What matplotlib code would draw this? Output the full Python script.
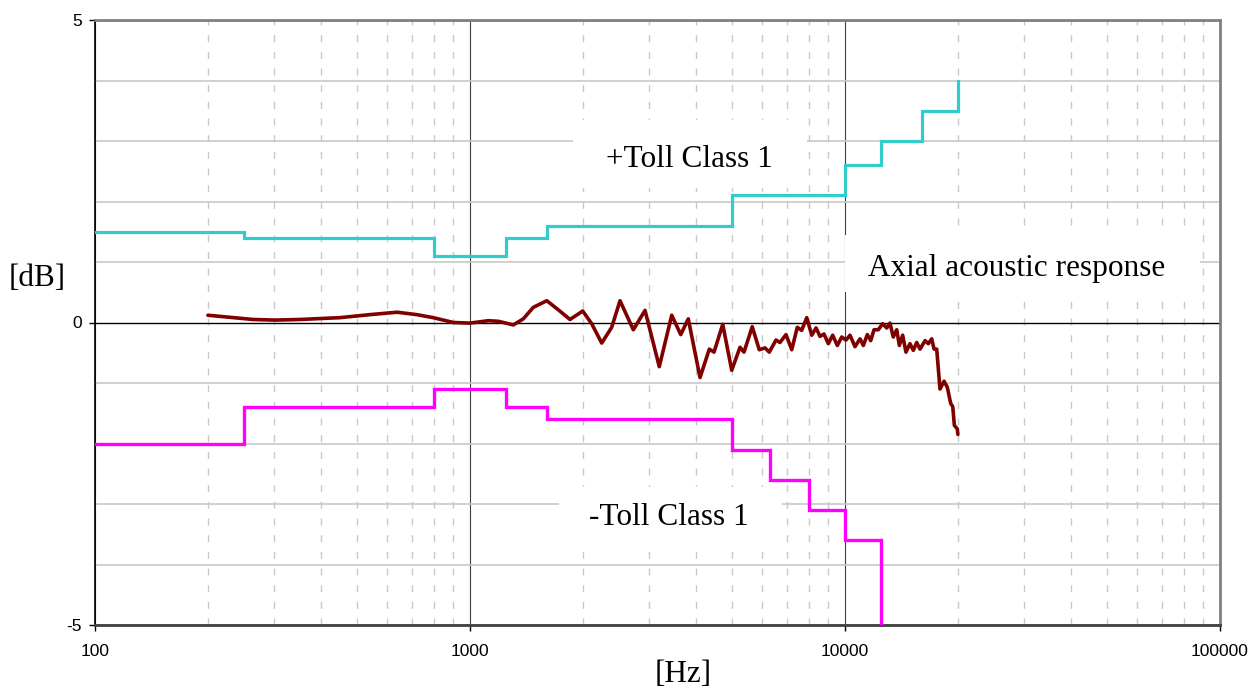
import matplotlib
matplotlib.use("Agg")
import matplotlib.pyplot as plt
from matplotlib.ticker import FixedLocator, NullFormatter, FixedFormatter
from matplotlib.patches import Rectangle

# ---------------- data ----------------
upper_edges = [100, 250, 800, 1250, 1600, 5000, 10000, 12500, 16000, 20000]
upper_vals = [1.5, 1.4, 1.1, 1.4, 1.6, 2.1, 2.6, 3.0, 3.5, 4.0]

lower_edges = [100, 250, 800, 1250, 1600, 5000, 6300, 8000, 10000, 12500]
lower_vals = [-2.0, -1.4, -1.1, -1.4, -1.6, -2.1, -2.6, -3.1, -3.6, -5.0]

resp_freq = [200, 264, 302, 352, 450, 541, 639, 721, 798, 903, 1000, 1119, 1190,
             1305, 1387, 1475, 1602, 1720, 1848, 1998, 2111, 2245, 2387, 2512,
             2726, 2929, 3197, 3451, 3647, 3820, 4106, 4347, 4474, 4720, 4988,
             5248, 5378, 5657, 5907, 6118, 6282, 6546, 6709, 6962, 7210, 7461,
             7665, 7906, 8153, 8372, 8577, 8790, 9026, 9272, 9539, 9800, 10062,
             10312, 10633, 10965, 11190, 11470, 11710, 11950, 12270, 12600,
             12920, 13180, 13450, 13740, 13960, 14250, 14540, 14900, 15210,
             15530, 15850, 16350, 16680, 17030, 17280, 17560, 17920, 18370,
             18740, 19140, 19380, 19570, 19930, 20000]
resp_db = [0.12, 0.05, 0.04, 0.05, 0.08, 0.13, 0.17, 0.13, 0.08, 0.00, -0.01,
           0.03, 0.02, -0.04, 0.06, 0.25, 0.36, 0.21, 0.05, 0.19, -0.02, -0.34,
           -0.08, 0.36, -0.12, 0.20, -0.73, 0.12, -0.20, 0.06, -0.91, -0.44,
           -0.49, -0.03, -0.79, -0.41, -0.49, -0.07, -0.45, -0.42, -0.49, -0.29,
           -0.33, -0.20, -0.45, -0.08, -0.13, 0.08, -0.21, -0.09, -0.23, -0.19,
           -0.35, -0.21, -0.38, -0.24, -0.29, -0.21, -0.40, -0.27, -0.38, -0.20,
           -0.30, -0.12, -0.12, -0.02, -0.09, -0.01, -0.24, -0.12, -0.38, -0.21,
           -0.49, -0.35, -0.46, -0.33, -0.44, -0.30, -0.35, -0.27, -0.44, -0.44,
           -1.10, -0.97, -1.07, -1.34, -1.39, -1.70, -1.76, -1.85]

x_ticks = [100, 1000, 10000, 100000]
x_tick_labels = ["100", "1000", "10000", "100000"]
y_ticks = [-5, 0, 5]
y_tick_labels = ["-5", "0", "5"]

label_upper = "+Toll Class 1"
label_lower = "-Toll Class 1"
label_resp = "Axial acoustic response"

# ---------------- figure ----------------
W, H = 1252, 693
fig = plt.figure(figsize=(W / 100, H / 100), dpi=100)
L, R, T, B = 95, 1220, 20, 625
ax = fig.add_axes([L / W, 1 - B / H, (R - L) / W, (B - T) / H])

ax.set_xscale("log")
ax.set_xlim(100, 100000)
ax.set_ylim(-5, 5)

# ticks
ax.xaxis.set_major_locator(FixedLocator(x_ticks))
ax.xaxis.set_major_formatter(FixedFormatter(x_tick_labels))
minor_x = [m * d for d in [100, 1000, 10000] for m in range(2, 10)]
ax.xaxis.set_minor_locator(FixedLocator(minor_x))
ax.xaxis.set_minor_formatter(NullFormatter())
ax.yaxis.set_major_locator(FixedLocator(y_ticks))
ax.yaxis.set_major_formatter(FixedFormatter(y_tick_labels))
ax.yaxis.set_minor_locator(FixedLocator([v for v in range(-4, 5) if v != 0]))

ax.tick_params(which="major", direction="out", length=4.5, width=1.0,
               color="black", labelsize=12.5, labelcolor="black")
ax.tick_params(axis="x", which="major", pad=9)
ax.tick_params(axis="y", which="major", pad=5)
ax.tick_params(which="minor", length=0)
for lab in ax.get_xticklabels() + ax.get_yticklabels():
    lab.set_fontfamily(["Liberation Sans", "DejaVu Sans"])

# grid
ax.set_axisbelow(True)
ax.grid(which="minor", axis="y", color="#c8c8c8", lw=1.2, ls="-")
ax.grid(which="major", axis="y", color="black", lw=1.0, ls="-")
ax.grid(which="minor", axis="x", color="#c8c8c8", lw=1.0, ls=(0, (5, 7)))
ax.grid(which="major", axis="x", color="#404040", lw=0.8, ls="-")

# spines
ax.spines["left"].set_color("black")
ax.spines["left"].set_linewidth(1.2)
ax.spines["bottom"].set_color("#404040")
ax.spines["bottom"].set_linewidth(2.0)
for s in ["top", "right"]:
    ax.spines[s].set_color("#808080")
    ax.spines[s].set_linewidth(2.0)

# white label boxes (interrupt the grid)
for (x0, x1, y0, y1) in [(0.425, 0.633, 0.722, 0.835),
                         (0.412, 0.611, 0.134, 0.228),
                         (0.667, 0.982, 0.550, 0.645)]:
    ax.add_patch(Rectangle((x0, y0), x1 - x0, y1 - y0, transform=ax.transAxes,
                           facecolor="white", edgecolor="none", zorder=1.5))

# data lines
ax.plot(upper_edges, upper_vals, drawstyle="steps-post", color="#33CCCC",
        lw=2.3, zorder=3, solid_joinstyle="miter")
ax.plot(lower_edges, lower_vals, drawstyle="steps-post", color="#FF00FF",
        lw=2.4, zorder=3, solid_joinstyle="miter")
ax.plot(resp_freq, resp_db, color="#800000", lw=2.6, zorder=4,
        solid_joinstyle="round", solid_capstyle="round")

serif = ["Liberation Serif", "DejaVu Serif"]
fs = 22.5
ax.text(0.528, 0.770, label_upper, transform=ax.transAxes, ha="center",
        va="center", fontsize=fs, family=serif, zorder=5)
ax.text(0.510, 0.177, label_lower, transform=ax.transAxes, ha="center",
        va="center", fontsize=fs, family=serif, zorder=5)
ax.text(0.819, 0.590, label_resp, transform=ax.transAxes, ha="center",
        va="center", fontsize=fs, family=serif, zorder=5)

fig.text(37 / W, 1 - 279 / H, "[dB]", ha="center", va="center", fontsize=fs,
         family=serif)
fig.text(683 / W, 1 - 674 / H, "[Hz]", ha="center", va="center", fontsize=fs,
         family=serif)

fig.savefig("out.png", dpi=100)
